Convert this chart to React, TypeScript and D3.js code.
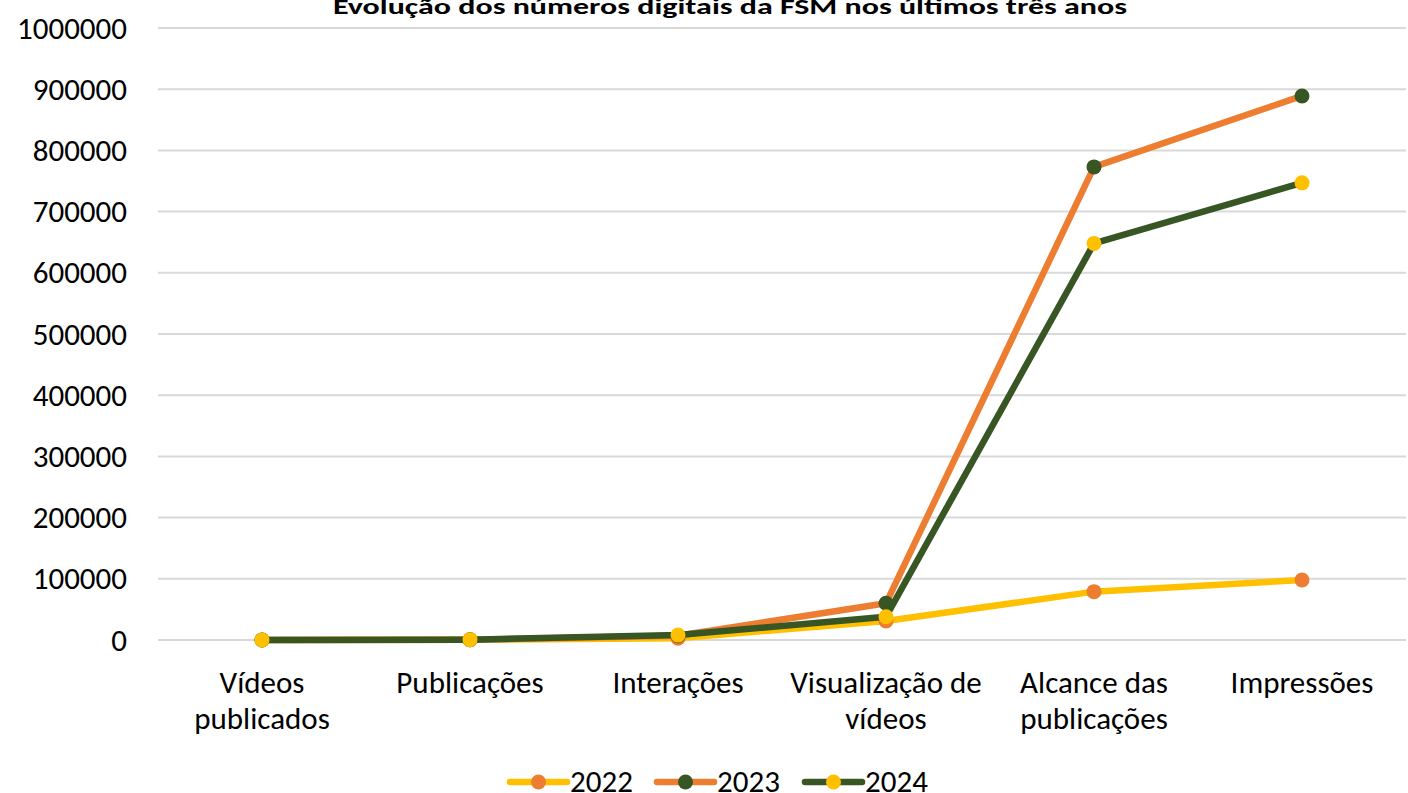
import React from "react";
import * as d3 from "d3";

const categories: string[][] = [
  ["Vídeos", "publicados"],
  ["Publicações"],
  ["Interações"],
  ["Visualização de", "vídeos"],
  ["Alcance das", "publicações"],
  ["Impressões"],
];
const values2022 = [60, 350, 3000, 31000, 79000, 98000];
const values2023 = [120, 500, 7000, 60000, 773000, 889000];
const values2024 = [150, 600, 8000, 38000, 648000, 747000];
const yTicks = [0, 100000, 200000, 300000, 400000, 500000, 600000, 700000, 800000, 900000, 1000000];
const title = "Evolução dos números digitais da FSM nos últimos três anos";

const series = [
  { name: "2022", values: values2022, line: "#FFC000", marker: "#ED7D31" },
  { name: "2023", values: values2023, line: "#ED7D31", marker: "#375623" },
  { name: "2024", values: values2024, line: "#375623", marker: "#FFC000" },
];

const W = 1408;
const H = 793;
const FONT = "Carlito, Calibri, Lato, 'Open Sans', sans-serif";
const FS = 31;

export default function App() {
  const left = 158;
  const right = 1406;
  const top = 28;
  const bottom = 640;
  const x = d3
    .scaleBand<number>()
    .domain(categories.map((_, i) => i))
    .range([left, right]);
  const y = d3.scaleLinear().domain([0, 1000000]).range([bottom, top]);
  const cx = (i: number) => (x(i) as number) + x.bandwidth() / 2;
  const line = d3
    .line<number>()
    .x((_, i) => cx(i))
    .y((d) => y(d));

  const legendItems = [
    { s: series[0], x0: 510 },
    { s: series[1], x0: 657 },
    { s: series[2], x0: 805 },
  ];

  return (
    <svg
      width={W}
      height={H}
      style={{ position: "absolute", left: 0, top: 0, background: "#fff" }}
      fontFamily={FONT}
    >
      <text
        x={730}
        y={14}
        textAnchor="middle"
        fontWeight="bold"
        fontSize={23}
        textLength={794}
        lengthAdjust="spacingAndGlyphs"
        fill="#000"
      >
        {title}
      </text>
      {yTicks.map((t) => (
        <g key={t}>
          <line x1={left} x2={right} y1={y(t)} y2={y(t)} stroke="#d9d9d9" strokeWidth={2} />
          <text x={127} y={y(t) + 10.5} textAnchor="end" fontSize={FS} fill="#000">
            {t}
          </text>
        </g>
      ))}
      {categories.map((lines, i) => (
        <text key={i} x={cx(i)} y={693} textAnchor="middle" fontSize={FS} fill="#000">
          {lines.map((l, j) => (
            <tspan key={j} x={cx(i)} dy={j === 0 ? 0 : 36}>
              {l}
            </tspan>
          ))}
        </text>
      ))}
      {series.map((s) => (
        <g key={s.name}>
          <path
            d={line(s.values) || ""}
            fill="none"
            stroke={s.line}
            strokeWidth={6.5}
            strokeLinejoin="round"
            strokeLinecap="round"
          />
          {s.values.map((v, i) => (
            <circle key={i} cx={cx(i)} cy={y(v)} r={7.5} fill={s.marker} />
          ))}
        </g>
      ))}
      {legendItems.map(({ s, x0 }) => (
        <g key={s.name}>
          <line
            x1={x0}
            x2={x0 + 57}
            y1={782}
            y2={782}
            stroke={s.line}
            strokeWidth={6.5}
            strokeLinecap="round"
          />
          <circle cx={x0 + 28.5} cy={782} r={7.5} fill={s.marker} />
          <text x={x0 + 60} y={792} fontSize={FS} fill="#000">
            {s.name}
          </text>
        </g>
      ))}
    </svg>
  );
}
